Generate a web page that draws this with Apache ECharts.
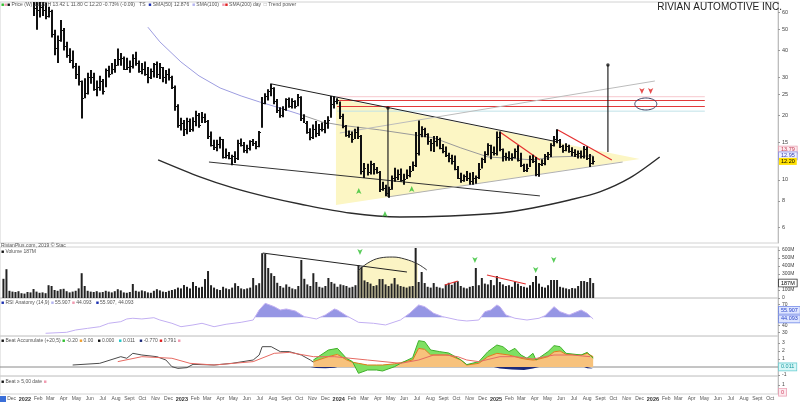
<!DOCTYPE html>
<html><head><meta charset="utf-8">
<script src="https://cdn.jsdelivr.net/npm/echarts@6.0.0/dist/echarts.min.js"></script>
<style>html,body{margin:0;padding:0;background:#fff}#c{width:800px;height:402px}</style>
</head><body><div id="c"></div>
<script>
// ---------- DATA ----------
const firstWeek = [2021, 10, 12]; // Friday 12 Nov 2021, weekly bars
const high = [130,179.5,132,123,121,115,112,114,106,92,
 78,69,70,69,67,64,62,50,47,55.5,
 51,44,41,40,35,34,29,29.7,31.5,32.5,
 31.5,29,30.5,29.5,33,34,35,36.5,40.9,39,
 37.5,37,36,38.5,39.5,36,35,35.6,33.5,33,
 35,35.6,35,33.5,32.5,33,30.5,27.5,22.5,19.5,
 19,19.5,19.3,19.6,21,20.5,20.7,20.4,19,16.8,
 15.4,15.4,15.9,15.5,14,13.5,13.1,13.6,15.4,15.6,
 15,14.6,15.3,15.5,15.2,16.9,24.3,25.3,26.4,28.1,
 27,23.8,21.8,22,24,24.2,24,23.5,25.1,24.5,
 20.2,18.8,17.4,18.1,18.8,18.2,18.5,19,19.8,24.6,
 24.5,24,23.2,20.3,18,17,16.8,17.3,17.7,16.2,
 12,11.9,12.3,12,11.5,11,9.8,9.5,9.3,10.5,
 11.4,11.2,11.3,10.7,11.2,11.6,12.2,16.7,18.9,17.8,
 17.5,16.5,15.5,16,16,15.7,14.7,14.3,13.4,13.1,
 13,11.6,10.8,10.6,11,10.8,10.9,10.5,12,12.7,
 13.6,14.8,14.6,14.3,16.8,16.8,14,13.4,13.6,13.3,
 14,14.5,13.4,11.9,11.9,13,13.1,12.8,12,12.5,
 13.2,13.5,14.8,16,17.2,15.5,14.6,14.8,14.6,14.2,
 13.9,13.7,13.7,14.4,14.3,13.2,12.9];
const low = [95,119,107,105,104,95,98,100,84,70,
 58,50,57,58,56,57,46,38,35,44,
 40,37,35,33,29.5,27.5,19.3,24,25,28,
 26,24.5,26,25,27,30,31,31.5,34,34,
 32.5,32.5,31.5,33,34,31.5,31,30.5,28.2,29.5,
 30,29.8,29.5,28.5,28,29,26.5,21,17.5,17,
 16,16.3,16.7,16.8,17.8,17.5,18.4,18.4,15.5,14.3,
 13.8,13.6,14,12.6,12.6,12.5,11.7,12,12.4,14.3,
 13.4,13.3,13.7,14.4,13.9,14.2,17.5,22.5,23.4,24.5,
 22.5,20.5,19.5,19.6,21,21.7,21.5,21.5,22,18.8,
 18.4,16.4,15.3,15.5,15.8,16,16.8,16.5,17.3,19.5,
 21.5,22.5,19.2,17.4,15.9,15.7,14.9,15.5,15.5,10.6,
 10.2,10.5,10.6,10.6,10.7,8.8,8.9,8.4,8.26,9,
 9.8,10,9.8,9.5,10.1,10.3,11,11.5,13,15.8,
 15.8,14.6,13.6,13.5,14.3,13.9,13.3,12.8,12.1,11.8,
 11.1,10.1,9.7,9.8,9.9,9.5,9.5,9.6,10.1,11.3,
 12,13,12.5,13,13,13.6,12.2,12.3,12.3,12.3,
 12.6,12.2,11.5,10.9,10.9,11.5,12,10.4,10.36,11.6,
 11.7,12.4,12.8,14.3,14.8,14.1,13.4,13.6,13.4,12.9,
 12.8,12.6,12.6,12.6,12.4,11.5,11.8];
const close = [123,128,116,112,111,100,108,104,87,74,
 63,62,64,62,58,61,48,41,45,50,
 42,38,36,34,31,29,24,25.5,30,30,
 26.5,27,29,26,32.5,31,33,34.3,36.5,37,
 33,33.5,34,37,35,32,32.9,31,30,32,
 34.6,31,33.5,30,31,30,27,22,18,18.4,
 17.3,18.9,17.3,18.8,20,18,19.6,18.8,16,14.6,
 14.3,14.7,15.5,12.8,13.1,12.7,12.9,12.6,14.8,14.6,
 13.8,14.1,15.1,14.9,14.4,16.7,22.8,24.7,26,26.9,
 23.2,21.2,20,21.3,23.8,22,23.2,22,24.3,19.5,
 18.5,16.8,15.9,17.3,16.5,17.3,17.3,18.5,19.1,22.5,
 23.2,23.5,19.8,17.8,16.2,16.3,15.5,16.8,16.1,11,
 11.4,10.9,11.9,11.2,10.9,9.1,9.2,8.7,9.1,10.2,
 10.3,10.7,10,10.1,10.5,11,11.7,13.4,16.3,17.3,
 16.4,15.1,14.8,15.2,15.5,14.1,13.7,13.1,12.6,12.3,
 11.3,10.2,10,10.4,10.2,9.9,10.2,10.3,11.3,12.5,
 13.2,14.5,13.5,13.3,15.9,13.9,12.9,12.8,12.7,12.8,
 13.6,12.4,11.7,11.1,11.4,12.5,12.3,10.7,11.9,12,
 12.9,13.2,14.6,15.5,15.3,14.4,13.8,14.4,13.7,13.5,
 13.2,13.3,12.9,14,12.6,12,12.2];
const volume = [240,360,90,80,75,85,60,55,75,70,
 112,80,65,70,60,160,150,100,90,110,
 115,85,70,80,90,120,310,150,90,80,
 75,85,70,75,90,80,70,85,110,95,
 70,65,75,175,90,80,95,85,70,65,
 90,110,95,80,75,90,100,110,130,120,
 162,140,120,200,150,130,140,237,337,160,
 130,110,100,140,120,110,130,185,150,120,
 110,120,130,250,160,185,560,550,375,310,
 275,190,150,130,170,140,120,110,150,475,
 240,170,150,310,200,140,130,150,250,200,
 180,140,170,160,150,130,140,160,410,390,
 220,200,180,150,160,237,237,170,150,180,
 250,170,150,140,130,145,150,625,200,325,
 187,140,130,187,140,130,120,170,190,165,
 200,210,150,130,120,140,150,375,160,250,
 180,170,225,160,275,200,170,150,160,140,
 200,180,150,140,130,160,200,275,180,140,
 130,160,225,225,225,140,130,120,110,125,
 120,150,212,212,200,250,187];
// moving average readings [week index, price]
const maPts = [[48,51.4],[52,43.9],[59,35.4],[65,30.5],[72,26.8],[79,24.6],[85,23.1],[92,21.6],[99,20.1]];
const maPts2 = [[99,20.1],[106,18.6],[112,18.0],[125,17.1],[143,15.7],[152,14.1],[161,12.8],[176,12.4],[183,12.8],[196,12.95]];
// RSI readings [week index, value]
const rsiPts = [[14,28.9],[21,30.3],[24,33.6],[28,36],[32,38.3],[35,43.2],[39,45.5],[41,49.4],[43,50.4],[46,49.4],[50,51.2],[52,47.9],[56,43.2],[59,38.3],[63,40.8],[66,43.2],[70,38.3],[74,41.8],[79,44.6],[83,47.9],[85,62.2],[87,71.8],[90,67],[92,62.2],[94,63.7],[97,60.8],[100,52.7],[104,49.4],[107,55.1],[110,63.7],[111,62.2],[114,54.1],[118,44.6],[123,43.2],[127,40.8],[132,48],[135,57.5],[138,69.4],[140,67],[143,57.5],[146,52.7],[151,47.9],[154,46.5],[158,47.9],[160,59.8],[162,62.2],[164,69.4],[165,67],[167,55.1],[170,50.4],[174,47.9],[178,50.4],[180,54.1],[183,67],[185,59.8],[188,55.1],[192,62.2],[194,57.5],[196,49.4]];
const rsiLevel = 52;
// lower oscillator readings
const oscPts = [[23,0.25],[32,0.46],[39,1.29],[41,1.09],[43,1.71],[46,1.5],[51,1.29],[54,0.875],[56,0.04],[58,-0.17],[61,-0.08],[63,0.33],[70,0.25],[76,0.46],[83,0.875],[85,1.5],[86,2.54],[89,2.54],[92,1.92],[95,1.92],[99,1.5],[102,0.875],[103,0.6]];
const signalPts = [[38,0.67],[46,1.29],[56,1.09],[62,0.46],[70,0.25],[83,0.67],[90,1.71],[95,1.83],[103,1.29],[110,1.29],[121,0.875],[132,0.46],[138,0.875],[143,1.5],[147,1.5],[151,1.29],[154,0.875],[158,0.67],[165,1.29],[170,1.29],[176,1.0],[183,1.5],[189,1.5],[195,1.29]];
const fillK = [103,108,111,114,116,118,121,124,126,130,132,136,138,140,142,145,148,152,154,158,161,164,166,168,170,172,174,176,177,181,183,185,187,192,194,196];
const orangeVals = [0.67,1.3,1.58,0.9,0.6,0.46,0.25,0.25,0.25,0.4,0.54,0.875,2.33,2.2,1.5,1.5,1.5,0.875,0.25,0.46,1.29,1.71,1.6,1.5,1.3,1.09,0.95,0.875,0.9,1.29,1.9,2.0,1.58,1.5,1.71,1.29];
const greenVals = [0.875,2.125,2.33,1.09,0.67,-0.79,-0.375,-0.375,-0.5,0.04,0.46,1.17,3.29,3.17,2.125,1.92,1.75,0.9,0.3,0.67,1.92,2.75,2.54,1.92,2.33,1.5,1.09,1.71,0.875,1.92,2.67,2.54,1.71,1.5,1.83,1.09];
const navyPts = [[102,0],[104,-0.12],[107,-0.17],[110,-0.1],[111,0],[163,0],[165,-0.2],[169,-0.3],[173,-0.375],[176,-0.2],[178,0],[193,0],[194,-0.15],[196,-0.2]];
// chart annotations [week index, price]
const upperTrend = [[89.2,27.96],[184.3,15.02]];
const lowerTrend = [[68.3,12.12],[178.3,8.43]];
const triangle = [[110.5,24.06],[110.5,7.65],[211.5,12.52]];
const triLower = [[127.8,8.34],[205.8,12.12]];
const channel = [[111.8,16.54],[216.5,28.87]];
const redLevels = [23.44, 21.98];
const faintLevels = [24.4, 20.9];
const levelSpan = [110.9, 233.1];
const ellipseC = [213.5, 22.57];
const redArrows = [[212.2,25.12],[215.1,25.12]];
const vLine1 = [[200.9,34.27],[200.9,13.5]];
const vLine2 = [[127.8,21.62],[127.8,8.34]];
const redDown1 = [[165,16.72],[178.3,12.39]];
const redDown2 = [[184.3,17.08],[202.2,12.39]];
const arc = [[51.4,12.39],[65.3,10.33],[76.3,9.18],[87.6,8.34],[98.5,7.73],[115.1,7.02],[131.8,6.73],[148.4,6.80],[165,7.02],[175.9,7.41],[188.2,8.07],[198.2,8.80],[208.2,10.22],[218.1,12.79]];
const tags = [['SC',71.3,11.25],['AR',88.2,30.45],['ST',102.9,14.39],['UA',109.5,27.36],['SP',126.8,7.82],['TEST',155.7,8.61],['LPS',177.3,9.48],['LPS',195.5,10.9]];
const greenUp = [[118.1,9.18],[135.7,9.38],[126.8,7.17]];
const volTrend = [[86.2,562],[134.1,325]];
const dome = [[117.8,337],[121.1,437],[125.1,500],[129.4,512],[133.4,487],[137.7,425],[140.7,350]];
const volRed1 = [[146.7,162],[151,212]];
const volRed2 = [[160.7,287],[173.6,175]];
const volGreen = [[118.5,537],[156.7,437],[176.9,312],[182.9,437]];
// tick labels
const priceTicks = [5,6,8,10,15,20,25,30,40,50,60];
const volTicks = [0,100,200,300,400,500,600];
const rsiTicks = [30,40,50,60,70];
const oscTicks = [-1,1,2,3];
const monthNames = ['Jan','Feb','Mar','Apr','May','Jun','Jul','Aug','Sept','Oct','Nov','Dec'];

// ---------- BUILD ----------
const DAY = 86400000;
const base = new Date(firstWeek[0], firstWeek[1], firstWeek[2]).getTime();
const wk = k => base + k * 7 * DAY;
const weeks = high.map((_, k) => new Date(firstWeek[0], firstWeek[1], firstWeek[2] + 7 * k).getTime());
const xMin = new Date(2021, 10, 4).getTime();
const xMax = new Date(2026, 9, 19).getTime();
const monthStarts = [];
for (let y = 2021; y <= 2026; y++) for (let m = 0; m < 12; m++) {
  const t = new Date(y, m, 1).getTime();
  if (t > xMin + 3 * DAY && t < xMax) monthStarts.push(t);
}
const FF = '"Liberation Sans", Arial, sans-serif';
const pts = a => a.map(p => [wk(p[0]), p[1]]);
function seg(pp, color, width, xi, yi, extra) {
  return Object.assign({ type: 'line', xAxisIndex: xi || 0, yAxisIndex: yi || 0, data: pts(pp), symbol: 'none',
    silent: true, z: 4, lineStyle: { color: color, width: width } }, extra || {});
}
function tagLine(value, text, bg, fg, border) {
  return { yAxis: value, label: { formatter: text, backgroundColor: bg, color: fg, borderColor: border || bg, borderWidth: border ? 0.8 : 0 } };
}
const markTags = (list) => ({ symbol: 'none', silent: true, lineStyle: { color: 'rgba(0,0,0,0)', width: 0 },
  label: { show: true, position: 'end', fontSize: 5.5, fontFamily: FF, padding: [1, 2, 0, 2], distance: 1 }, data: list });
// filled band between two polylines (data space), drawn through the axes' scales
function band(xi, yi, top, bottom, fill, z) {
  return { type: 'custom', xAxisIndex: xi, yAxisIndex: yi, z: z, silent: true, data: [top[0]],
    renderItem: (p, api) => ({ type: 'polygon',
      shape: { points: top.map(v => api.coord(v)).concat(bottom.slice().reverse().map(v => api.coord(v))) },
      style: { fill: fill, stroke: 'none' } }) };
}
// RSI excess above level, with exact crossing points so the fill meets the line
const rsiTop = [], rsiBot = [];
rsiPts.forEach((p, i) => {
  if (i > 0) { const q = rsiPts[i - 1];
    if ((q[1] - rsiLevel) * (p[1] - rsiLevel) < 0) { const f = (rsiLevel - q[1]) / (p[1] - q[1]); const kx = q[0] + f * (p[0] - q[0]);
      rsiTop.push([wk(kx), rsiLevel]); rsiBot.push([wk(kx), rsiLevel]); } }
  rsiTop.push([wk(p[0]), Math.max(p[1], rsiLevel)]); rsiBot.push([wk(p[0]), rsiLevel]);
});

const xAx = (i, show) => ({ type: 'value', gridIndex: i, min: xMin, max: xMax,
  axisLine: { show: false }, axisTick: { show: false }, splitLine: { show: false },
  axisLabel: show ? { customValues: monthStarts, fontSize: 5, color: '#555', fontFamily: FF, margin: 2,
    formatter: v => { const d = new Date(v); return d.getMonth() === 0 ? '{y|' + d.getFullYear() + '}' : monthNames[d.getMonth()]; },
    rich: { y: { fontSize: 5.5, fontWeight: 'bold', color: '#333', fontFamily: FF } } } : { show: false } });
const yAx = (i, o) => Object.assign({ gridIndex: i, position: 'right', splitLine: { show: false },
  axisLine: { show: true, lineStyle: { color: '#bdbdbd' } },
  axisTick: { show: true, length: 2, lineStyle: { color: '#999' } },
  axisLabel: { fontSize: 5, color: '#444', margin: 4, fontFamily: FF } }, o);

const grids = [[2, 241], [247, 51], [298, 38], [336, 40], [376, 20]].map(g => ({
  left: 0, width: 778, top: g[0], height: g[1], show: true, borderColor: '#d2d2d2', borderWidth: 1 }));

const series = [];
// ----- price panel -----
series.push(band(0, 0, pts(triangle.slice(0, 1).concat(triangle.slice(2))), pts(triangle.slice(1, 2)), '#fcf6c4', 1));
faintLevels.forEach((lv, i) => series.push(seg([[levelSpan[0], lv], [levelSpan[1], lv]], i ? '#bfe2e8' : '#f6c8cf', 1, 0, 0, { z: 2 })));
redLevels.forEach(lv => series.push(seg([[levelSpan[0], lv], [levelSpan[1], lv]], '#e23a3a', 1.1)));
series.push(seg(maPts, '#9d9de0', 1, 0, 0, { z: 3 }));
series.push(seg(maPts2, '#9a9a9a', 1, 0, 0, { z: 3,
  markLine: markTags([tagLine(13.79, '13.79', '#fde9ee', '#c03a50', '#e8a0b0'),
    tagLine(12.95, '12.95', '#eef0ff', '#3840b0', '#8a90e0'),
    tagLine(close[close.length - 1], close[close.length - 1].toFixed(2), '#ffe000', '#000')]) }));
series.push(seg(upperTrend, '#1f1f1f', 1));
series.push(seg(lowerTrend, '#333', 1));
series.push(seg(triLower, '#b0b0b0', 1));
series.push(seg(channel, '#bcbcbc', 1));
series.push(seg(redDown1, '#e53030', 1.2));
series.push(seg(redDown2, '#e53030', 1.2));
series.push(seg(arc, '#2c2c2c', 1.4, 0, 0, { smooth: 0.3 }));
series.push(seg(vLine1, '#222', 1.2));
series.push(seg(vLine2, '#222', 1.2));
series.push({ type: 'scatter', xAxisIndex: 0, yAxisIndex: 0, silent: true, z: 6, symbol: 'circle', symbolSize: 3.5,
  itemStyle: { color: '#111' }, data: pts([vLine1[0], vLine2[0]]) });
series.push({ type: 'custom', xAxisIndex: 0, yAxisIndex: 0, z: 6, silent: true,
  data: [[wk(ellipseC[0]), ellipseC[1]]],
  renderItem: (p, api) => { const c = api.coord([api.value(0), api.value(1)]); const pp = [];
    for (let a = 0; a < 48; a++) { const t = a / 48 * Math.PI * 2; pp.push([c[0] + 11 * Math.cos(t), c[1] + 6 * Math.sin(t)]); }
    return { type: 'polygon', shape: { points: pp }, style: { fill: 'none', stroke: '#3b3f62', lineWidth: 1 } }; } });
series.push({ type: 'scatter', xAxisIndex: 0, yAxisIndex: 0, silent: true, z: 6, symbol: 'arrow', symbolSize: [4, 6],
  symbolRotate: 180, itemStyle: { color: '#e02020' }, data: pts(redArrows) });
series.push({ type: 'scatter', xAxisIndex: 0, yAxisIndex: 0, silent: true, z: 6, symbol: 'arrow', symbolSize: [4, 6],
  itemStyle: { color: '#2fbf2f' }, data: pts(greenUp) });
series.push({ type: 'custom', xAxisIndex: 0, yAxisIndex: 0, z: 5, clip: true, silent: true,
  data: weeks.map((t, k) => [t, high[k], low[k], close[k]]), encode: { x: 0, y: [1, 2, 3] },
  renderItem: (p, api) => { const x = api.value(0);
    const ph = api.coord([x, api.value(1)]), pl = api.coord([x, api.value(2)]), pc = api.coord([x, api.value(3)]);
    const cx = Math.round(ph[0]);
    return { type: 'group', children: [
      { type: 'rect', shape: { x: cx - 1, y: ph[1], width: 2, height: Math.max(1, pl[1] - ph[1]) }, style: { fill: '#111' } },
      { type: 'rect', shape: { x: cx + 1, y: Math.round(pc[1]), width: 1, height: 1 }, style: { fill: '#111' } }] }; } });
series.push({ type: 'scatter', xAxisIndex: 0, yAxisIndex: 0, silent: true, z: 7, symbolSize: 1, itemStyle: { opacity: 0 },
  data: tags.map(t => ({ name: t[0], value: [wk(t[1]), t[2]] })),
  label: { show: true, position: 'inside', formatter: '{b}', fontSize: 5, color: '#333', fontFamily: FF } });
// ----- volume panel -----
series.push(seg(dome.slice(0, 6), 'rgba(0,0,0,0)', 0, 1, 1, { z: 1, smooth: 0.4, areaStyle: { color: '#fbf4c4', opacity: 1 } }));
series.push({ type: 'bar', xAxisIndex: 1, yAxisIndex: 1, z: 3, silent: true, barWidth: 2,
  itemStyle: { color: '#222' }, data: weeks.map((t, k) => [t, volume[k]]),
  markLine: markTags([tagLine(volume[volume.length - 1], volume[volume.length - 1] + 'M', '#fff', '#000', '#333')]) });
series.push(seg(dome, '#333', 1, 1, 1, { smooth: 0.4, z: 4 }));
series.push(seg(volTrend, '#222', 1, 1, 1));
series.push(seg(volRed1, '#e53030', 1.2, 1, 1));
series.push(seg(volRed2, '#e53030', 1.2, 1, 1));
series.push({ type: 'scatter', xAxisIndex: 1, yAxisIndex: 1, silent: true, z: 6, symbol: 'arrow', symbolSize: [4, 6],
  symbolRotate: 180, itemStyle: { color: '#2fbf2f' }, data: pts(volGreen) });
// ----- RSI panel -----
series.push(band(2, 2, rsiTop, rsiBot, '#9696e4', 2));
series.push({ type: 'line', xAxisIndex: 2, yAxisIndex: 2, symbol: 'none', silent: true, z: 4,
  lineStyle: { color: '#c2aff2', width: 1 }, data: pts(rsiPts),
  markLine: markTags([tagLine(61.9, '55.907', '#dfe6ff', '#2a45c8', '#6f86e8'), tagLine(49.4, '44.093', '#dfe6ff', '#2a45c8', '#6f86e8')]) });
// ----- oscillator panel -----
const orangeLine = fillK.map((k, i) => [wk(k), orangeVals[i]]);
const greenLine = fillK.map((k, i) => [wk(k), greenVals[i]]);
series.push({ type: 'line', xAxisIndex: 3, yAxisIndex: 3, symbol: 'none', silent: true, z: 1,
  lineStyle: { color: '#8a8a8a', width: 1 }, data: [[xMin, 0], [xMax, 0]] });
series.push({ type: 'line', xAxisIndex: 3, yAxisIndex: 3, symbol: 'none', silent: true, z: 3,
  lineStyle: { color: '#4a4a4a', width: 1 }, data: pts(oscPts) });
series.push({ type: 'line', xAxisIndex: 3, yAxisIndex: 3, symbol: 'none', silent: true, z: 2,
  lineStyle: { color: 'rgba(0,0,0,0)', width: 0 }, areaStyle: { color: '#f7c27c', opacity: 1 }, data: orangeLine });
series.push(band(3, 3, greenLine, orangeLine, '#7fe062', 3));
series.push({ type: 'line', xAxisIndex: 3, yAxisIndex: 3, symbol: 'none', silent: true, z: 4,
  lineStyle: { color: '#e07a1a', width: 1 }, data: orangeLine });
series.push({ type: 'line', xAxisIndex: 3, yAxisIndex: 3, symbol: 'none', silent: true, z: 4,
  lineStyle: { color: '#3fb02a', width: 1 }, data: greenLine });
series.push({ type: 'line', xAxisIndex: 3, yAxisIndex: 3, symbol: 'none', silent: true, z: 4,
  lineStyle: { color: 'rgba(0,0,0,0)', width: 0 }, areaStyle: { color: '#1c2a7a', opacity: 1 }, data: pts(navyPts) });
series.push({ type: 'line', xAxisIndex: 3, yAxisIndex: 3, symbol: 'none', silent: true, z: 5,
  lineStyle: { color: '#e66a62', width: 1 }, data: pts(signalPts),
  markLine: markTags([tagLine(0.011, '0.011', '#d8f7f7', '#1a9aa0', '#70d0d4')]) });
// ----- bottom panel -----
series.push({ type: 'line', xAxisIndex: 4, yAxisIndex: 4, symbol: 'none', silent: true, data: [[xMin, 1]],
  lineStyle: { color: 'rgba(0,0,0,0)', width: 0 },
  markLine: markTags([tagLine(0.2, '0', '#fde9ee', '#d04060', '#eaa0b4')]) });

const sq = { g: '#2fbf2f', p: '#f29ab0', k: '#111', b: '#1a2fb0', l: '#b4b4f0', r: '#e02020', o: '#f0a030', c: '#20c8c8', n: '#1c2a7a', w: '#999' };
const rich = {}; Object.keys(sq).forEach(k => rich[k] = { fill: sq[k], color: sq[k], font: '5px ' + FF });
const hdr = (x, y, text) => ({ type: 'text', x: x, y: y, silent: true, z: 100,
  style: { text: text, font: '5px ' + FF, fill: '#555', rich: rich, verticalAlign: 'top' } });

const option = {
  animation: false,
  textStyle: { fontFamily: FF },
  grid: grids,
  xAxis: [xAx(0), xAx(1), xAx(2), xAx(3), xAx(4, true)],
  yAxis: [
    yAx(0, { type: 'log', logBase: 10, min: 5.09, max: 67.3,
      axisTick: { show: true, length: 2, customValues: priceTicks, lineStyle: { color: '#999' } },
      axisLabel: { customValues: priceTicks, fontSize: 5.5, color: '#444', margin: 4, fontFamily: FF } }),
    yAx(1, { type: 'value', min: 0, max: 637.5,
      axisTick: { show: true, length: 2, customValues: volTicks, lineStyle: { color: '#999' } },
      axisLabel: { customValues: volTicks, fontSize: 5, color: '#444', margin: 4, fontFamily: FF, formatter: v => v === 0 ? '0' : v + 'M' } }),
    yAx(2, { type: 'value', min: 25, max: 79.4,
      axisTick: { show: true, length: 2, customValues: rsiTicks, lineStyle: { color: '#999' } },
      axisLabel: { customValues: rsiTicks, fontSize: 5, color: '#444', margin: 4, fontFamily: FF } }),
    yAx(3, { type: 'value', min: -1.125, max: 3.875,
      axisTick: { show: true, length: 2, customValues: oscTicks, lineStyle: { color: '#999' } },
      axisLabel: { customValues: oscTicks, fontSize: 5, color: '#444', margin: 4, fontFamily: FF } }),
    yAx(4, { type: 'value', min: 0, max: 2,
      axisTick: { show: true, length: 2, customValues: [1], lineStyle: { color: '#999' } },
      axisLabel: { customValues: [1], fontSize: 5, color: '#444', margin: 4, fontFamily: FF } })
  ],
  series: series,
  graphic: [
    { type: 'text', right: 18, top: 2, silent: true, z: 100,
      style: { text: 'RIVIAN AUTOMOTIVE INC.', font: '10px ' + FF, fill: '#222' } },
    hdr(1, 2, '{g|■}{p|■}{k|■} Price (W) 13.09 H 13.42 L 11.80 C 12.20 -0.73% (-0.09)   TS  {b|■} SMA(50) 12.876  {l|■} SMA(100)  {p|■}{r|■} SMA(200) day  {w|□} Trend power'),
    hdr(1, 243.3, 'RivianPlus.com, 2019 © Stac'),
    hdr(1, 249, '{k|■} Volume 187M'),
    hdr(1, 300, '{b|■} RSI Anatomy (14,9) {l|■} 55.907 {p|■} 44.093   {b|■} 55.907, 44.093'),
    hdr(1, 338, '{k|■} Beat Accumulate (+20,5) {g|■} -0.20 {o|■} 0.00   {k|■} 0.000   {c|■} 0.011   {n|■} -0.770 {r|■} 0.791 {p|■}'),
    hdr(1, 379, '{k|■} Beat ≥ 5,00 date {p|■}'),
    { type: 'rect', left: 0, top: 396, silent: true, z: 100, shape: { width: 6, height: 6 }, style: { fill: '#3b6fd8' } }
  ]
};
const chart = echarts.init(document.getElementById('c'), null, { renderer: 'canvas' });
chart.setOption(option);
</script></body></html>
